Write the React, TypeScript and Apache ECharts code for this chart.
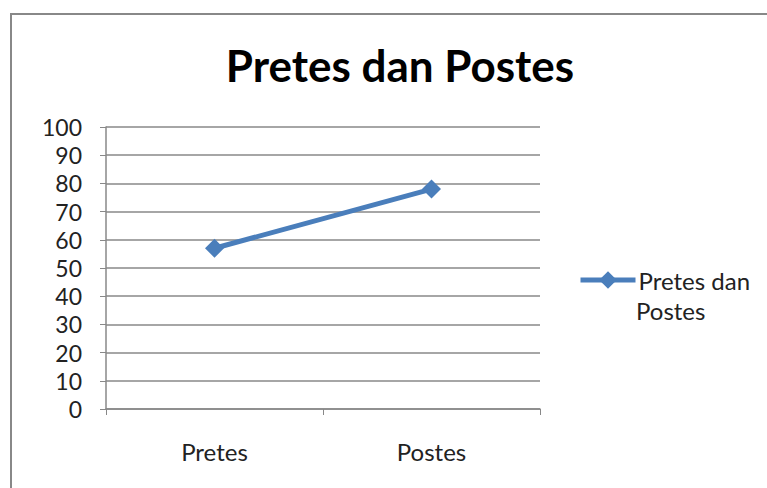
import React, { useEffect, useRef } from "react";
import * as echarts from "echarts";

const categories = ["Pretes", "Postes"];
const seriesName = "Pretes dan Postes";
const values = [57, 78];
const yMin = 0;
const yMax = 100;
const yStep = 10;

const FONT = "Lato, 'Open Sans', sans-serif";

export default function App() {
  const ref = useRef<HTMLDivElement>(null);
  useEffect(() => {
    if (!ref.current) return;
    const chart = echarts.init(ref.current, undefined, { renderer: "svg" });
    chart.setOption({
      animation: false,
      backgroundColor: "#ffffff",
      title: {
        text: "Pretes dan Postes",
        left: 395,
        textAlign: "center",
        top: 38,
        textStyle: { fontFamily: FONT, fontWeight: "bold", fontSize: 44, color: "#000" },
      },
      graphic: [
        {
          type: "rect",
          shape: { x: 11, y: 14, width: 800, height: 520 },
          style: { fill: "none", stroke: "#888888", lineWidth: 2 },
          silent: true,
          z: 100,
        },
        {
          type: "text",
          left: 636,
          top: 298,
          style: { text: "Postes", fontFamily: FONT, fontSize: 24, fill: "#222" },
        },
      ],
      legend: {
        left: 573,
        top: 263,
        itemWidth: 55,
        itemHeight: 22,
        itemGap: 4,
        data: [seriesName],
        formatter: () => "Pretes dan",
        lineStyle: { width: 5 },
        textStyle: { fontFamily: FONT, fontSize: 24, color: "#222", padding: [0, 0, 0, -2] },
      },
      grid: { left: 106, right: 227, top: 127, bottom: 79, containLabel: false },
      xAxis: {
        type: "category",
        data: categories,
        boundaryGap: true,
        axisLine: { lineStyle: { color: "#888", width: 1.5 } },
        axisTick: { show: true, length: 6, lineStyle: { color: "#888" } },
        axisLabel: { margin: 30, fontFamily: FONT, fontSize: 24, color: "#222" },
      },
      yAxis: {
        type: "value",
        min: yMin,
        max: yMax,
        interval: yStep,
        axisLine: { show: true, lineStyle: { color: "#888", width: 1.5 } },
        axisTick: { show: true, length: 6, lineStyle: { color: "#888" } },
        splitLine: { lineStyle: { color: "#888", width: 1.5 } },
        axisLabel: { margin: 24, fontFamily: FONT, fontSize: 23, color: "#222" },
      },
      series: [
        {
          name: seriesName,
          type: "line",
          data: values,
          symbol: "diamond",
          symbolSize: 19,
          lineStyle: { color: "#4A7EBB", width: 5 },
          itemStyle: { color: "#4A7EBB" },
        },
      ],
    });
    return () => chart.dispose();
  }, []);
  return (
    <div
      ref={ref}
      style={{ position: "absolute", left: 0, top: 0, width: 767, height: 488 }}
    />
  );
}
